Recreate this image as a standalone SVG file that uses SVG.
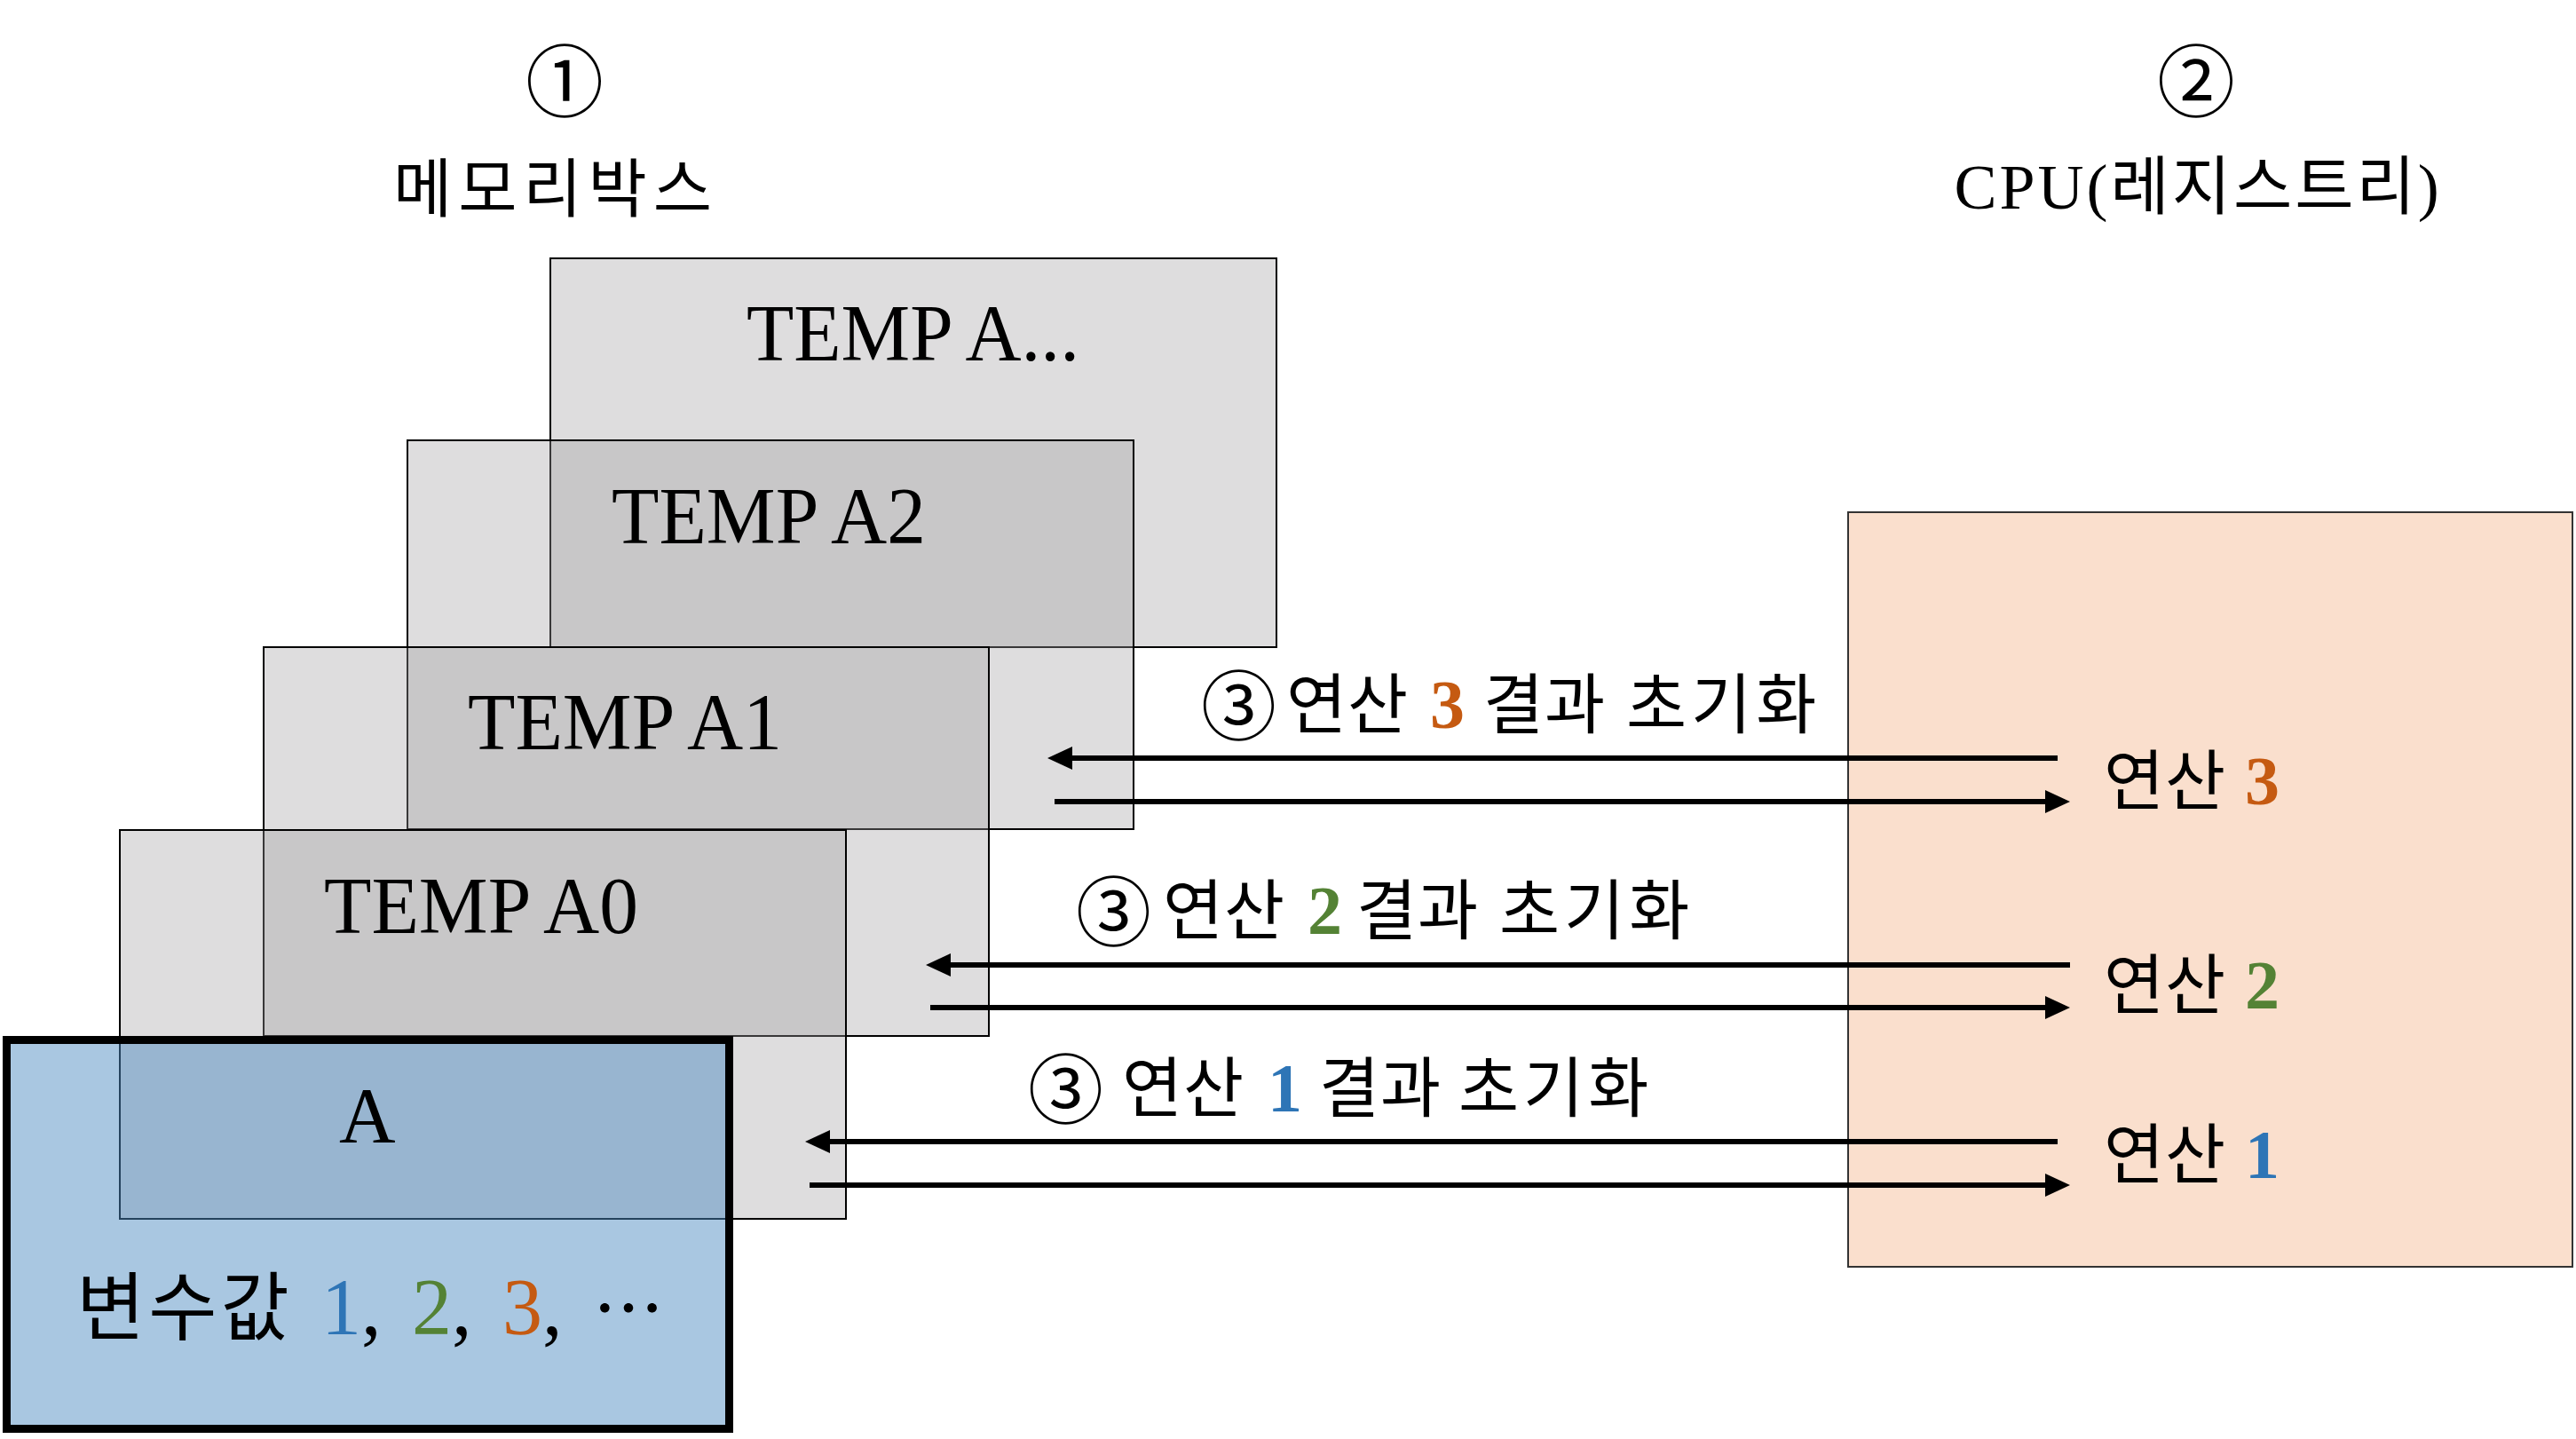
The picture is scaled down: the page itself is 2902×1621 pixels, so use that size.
<svg xmlns="http://www.w3.org/2000/svg" width="2902" height="1621" viewBox="0 0 2902 1621">
<defs>
<style>
.t{font-family:'Liberation Serif','Noto Sans CJK KR',serif;fill:#000}
.k{font-family:'Noto Sans CJK KR','Liberation Serif',sans-serif;fill:#000}
.lab{font-family:'Noto Sans CJK KR','Liberation Serif',sans-serif;font-size:74px;letter-spacing:1px}
.w{letter-spacing:5px}
.num{font-family:'Liberation Serif',serif;font-weight:bold;font-size:78px}
.circ{font-family:'Noto Sans CJK KR',sans-serif;font-size:85px}
.mem{fill:rgba(160,158,160,0.35);stroke:#000;stroke-width:2}
.cn{stroke:#000;stroke-width:6;fill:none;marker-end:url(#ah)}
.b{fill:#2E75B6}.g{fill:#548235}.o{fill:#C55A11}
</style>
<marker id="ah" markerUnits="userSpaceOnUse" markerWidth="28" markerHeight="26" refX="8" refY="13" orient="auto">
<path d="M0,0 L28,13 L0,26 z" fill="#000"/>
</marker>
</defs>
<rect width="2902" height="1621" fill="#fff"/>

<g id="title-memory">
<text class="k" x="636" y="124" font-size="88" text-anchor="middle">①</text>
<text class="k" x="626" y="238" font-size="72" letter-spacing="7" text-anchor="middle">메모리박스</text>
</g>
<g id="title-cpu">
<text class="k" x="2474" y="124" font-size="88" text-anchor="middle">②</text>
<text class="t" x="2476" y="235" font-size="72" letter-spacing="3" text-anchor="middle">CPU(레지스트리)</text>
</g>

<g id="cpu">
<rect x="2082" y="577" width="816" height="850" fill="#FADFCD" stroke="#333" stroke-width="2"/>
</g>

<g id="temp-a-etc">
<rect class="mem" x="620" y="291" width="818" height="438"/>
<text class="t" x="841" y="406" font-size="90" textLength="375" lengthAdjust="spacingAndGlyphs">TEMP A...</text>
</g>
<g id="temp-a2">
<rect class="mem" x="459" y="496" width="818" height="438"/>
<text class="t" x="689" y="612" font-size="90" textLength="354" lengthAdjust="spacingAndGlyphs">TEMP A2</text>
</g>
<g id="temp-a1">
<rect class="mem" x="297" y="729" width="817" height="438"/>
<text class="t" x="527" y="844" font-size="90" textLength="354" lengthAdjust="spacingAndGlyphs">TEMP A1</text>
</g>
<g id="temp-a0">
<rect class="mem" x="135" y="935" width="818" height="438"/>
<text class="t" x="365" y="1051" font-size="90" textLength="354" lengthAdjust="spacingAndGlyphs">TEMP A0</text>
</g>
<g id="var-a">
<rect x="7.5" y="1171.5" width="814" height="438" fill="rgba(76,138,192,0.48)" stroke="#000" stroke-width="9"/>
<text class="t" x="382" y="1286" font-size="88">A</text>
<text class="t" y="1503" font-size="90"><tspan class="k" x="86" font-size="84" letter-spacing="4">변수값</tspan><tspan x="362" class="b">1</tspan><tspan>,</tspan><tspan x="464" class="g">2</tspan><tspan>,</tspan><tspan x="566" class="o">3</tspan><tspan>,</tspan><tspan x="668" font-size="80">⋯</tspan></text>
</g>

<g id="connectors">
<line class="cn" x1="2318" y1="854" x2="1200" y2="854"/>
<line class="cn" x1="1188" y1="903" x2="2312" y2="903"/>
<line class="cn" x1="2332" y1="1087" x2="1063" y2="1087"/>
<line class="cn" x1="1048" y1="1135" x2="2312" y2="1135"/>
<line class="cn" x1="2318" y1="1286" x2="927" y2="1286"/>
<line class="cn" x1="912" y1="1335" x2="2312" y2="1335"/>
</g>

<g id="label-op3">
<text><tspan class="circ" x="1353" y="827">③</tspan><tspan class="lab" x="1449" y="820">연산</tspan><tspan class="num o" x="1611" y="820">3</tspan><tspan class="lab" x="1671" y="820">결과</tspan><tspan class="lab w" x="1832" y="820">초기화</tspan></text>
<text><tspan class="lab" x="2370" y="906">연산</tspan><tspan class="num o" x="2529" y="906">3</tspan></text>
</g>
<g id="label-op2">
<text><tspan class="circ" x="1212" y="1059">③</tspan><tspan class="lab" x="1310" y="1052">연산</tspan><tspan class="num g" x="1473" y="1052">2</tspan><tspan class="lab" x="1528" y="1052">결과</tspan><tspan class="lab w" x="1689" y="1052">초기화</tspan></text>
<text><tspan class="lab" x="2370" y="1136">연산</tspan><tspan class="num g" x="2529" y="1136">2</tspan></text>
</g>
<g id="label-op1">
<text><tspan class="circ" x="1158" y="1259">③</tspan><tspan class="lab" x="1264" y="1252">연산</tspan><tspan class="num b" x="1428" y="1252">1</tspan><tspan class="lab" x="1486" y="1252">결과</tspan><tspan class="lab w" x="1643" y="1252">초기화</tspan></text>
<text><tspan class="lab" x="2370" y="1327">연산</tspan><tspan class="num b" x="2529" y="1327">1</tspan></text>
</g>
</svg>
